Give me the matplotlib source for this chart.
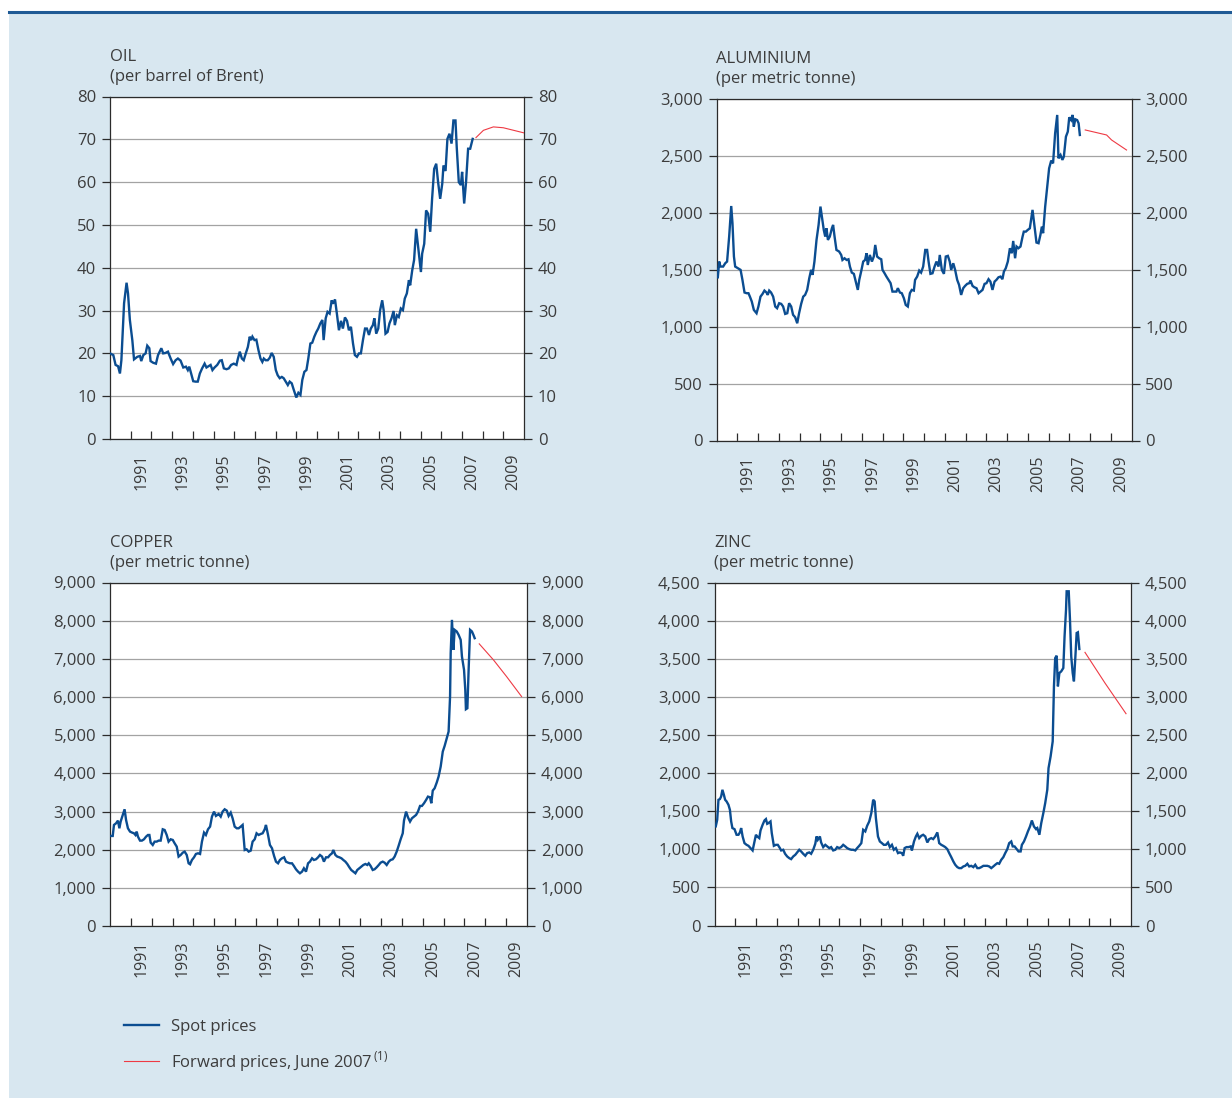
import matplotlib.pyplot as plt
import matplotlib.ticker as mticker
from matplotlib.patches import Rectangle
from matplotlib.lines import Line2D
import numpy as np

plt.rcParams['font.family'] = ['Open Sans', 'DejaVu Sans']

# time axis: years since Jan 1990
oil_t = [0.00, 0.16, 0.27, 0.39, 0.48, 0.55, 0.68, 0.80, 0.87, 0.96,
         1.08, 1.16, 1.32, 1.45, 1.51, 1.61, 1.72, 1.80, 1.90, 1.96,
         2.09, 2.22, 2.32, 2.48, 2.57, 2.68, 2.80, 2.93, 3.05, 3.17,
         3.28, 3.41, 3.54, 3.67, 3.76, 3.83, 3.92, 4.02, 4.13, 4.24,
         4.34, 4.45, 4.57, 4.66, 4.76, 4.86, 4.95, 5.05, 5.18, 5.31,
         5.40, 5.50, 5.63, 5.74, 5.85, 5.98, 6.11, 6.17, 6.27, 6.37,
         6.46, 6.56, 6.66, 6.75, 6.82, 6.88, 6.98, 7.07, 7.17, 7.27,
         7.36, 7.43, 7.52, 7.62, 7.72, 7.81, 7.91, 8.01, 8.10, 8.20,
         8.30, 8.39, 8.49, 8.59, 8.68, 8.78, 8.87, 9.00, 9.10, 9.20,
         9.29, 9.39, 9.49, 9.58, 9.68, 9.77, 9.87, 9.97, 10.06, 10.16,
         10.26, 10.32, 10.42, 10.51, 10.61, 10.71, 10.77, 10.87, 10.96, 11.06,
         11.16, 11.25, 11.35, 11.45, 11.54, 11.64, 11.74, 11.83, 11.93, 12.03,
         12.12, 12.22, 12.32, 12.41, 12.51, 12.60, 12.70, 12.77, 12.86, 12.96,
         13.05, 13.15, 13.22, 13.31, 13.41, 13.50, 13.60, 13.70, 13.76, 13.86,
         13.95, 14.05, 14.15, 14.24, 14.34, 14.44, 14.50, 14.60, 14.69, 14.79,
         14.92, 15.02, 15.08, 15.18, 15.27, 15.37, 15.47, 15.56, 15.66, 15.76,
         15.85, 15.95, 16.05, 16.11, 16.21, 16.30, 16.40, 16.50, 16.59, 16.69,
         16.75, 16.85, 16.95, 17.01, 17.11, 17.20, 17.30, 17.40, 17.52]
oil_v = [20.0, 19.6, 17.3, 17.0, 15.3, 18.4, 31.7, 36.5, 34.0, 27.8,
         23.0, 18.6, 19.2, 19.4, 18.2, 19.6, 20.0, 21.8, 21.2, 18.2,
         17.8, 17.6, 19.6, 21.2, 20.0, 20.1, 20.4, 18.8, 17.5, 18.4,
         18.8, 18.3, 16.7, 16.9, 16.1, 16.9, 15.3, 13.5, 13.4, 13.4,
         15.3, 16.5, 17.6, 16.7, 17.0, 17.3, 16.1, 16.7, 17.3, 18.3,
         18.4, 16.5, 16.3, 16.5, 17.3, 17.6, 17.3, 18.6, 20.4, 18.8,
         18.4, 20.0, 21.5, 23.9, 23.1, 23.9, 23.1, 23.2, 20.8, 18.8,
         18.0, 18.8, 18.4, 18.4, 19.0, 20.1, 19.2, 16.1, 14.9, 14.2,
         14.5, 14.2, 13.4, 12.6, 13.4, 13.0, 11.6, 9.7, 10.8, 10.3,
         13.8, 15.7, 16.1, 18.8, 22.3, 22.5, 23.9, 25.0, 25.8, 27.0,
         27.8, 23.1, 28.2, 29.7, 29.3, 32.4, 31.6, 32.6, 29.3, 25.4,
         27.6, 25.8, 28.4, 27.6, 25.4, 26.2, 22.3, 19.6, 19.2, 20.0,
         20.0, 23.1, 25.8, 25.8, 24.3, 25.8, 26.6, 28.2, 24.6, 25.8,
         30.1, 32.4, 30.1, 24.6, 25.0, 27.0, 28.2, 29.9, 26.6, 28.9,
         28.5, 30.5, 30.1, 32.8, 34.0, 37.1, 35.9, 39.4, 41.8, 49.1,
         43.3, 39.0, 43.3, 45.6, 53.4, 52.6, 48.4, 56.1, 63.1, 64.3,
         60.0, 56.1, 59.6, 63.9, 62.6, 70.1, 71.3, 69.0, 74.4, 74.4,
         68.2, 60.0, 59.3, 62.4, 55.0, 60.0, 67.8, 67.8, 70.1]
oil_fwd_t = [17.68, 18.04, 18.52, 19.00, 20.00]
oil_fwd_v = [70.4, 72.1, 72.9, 72.7, 71.5]

alu_t = [0.00, 0.06, 0.13, 0.19, 0.32, 0.42, 0.51, 0.61, 0.71, 0.77,
         0.84, 0.90, 1.03, 1.16, 1.25, 1.35, 1.45, 1.54, 1.61, 1.70,
         1.80, 1.93, 2.02, 2.12, 2.22, 2.31, 2.41, 2.47, 2.54, 2.63,
         2.73, 2.83, 2.92, 3.02, 3.12, 3.21, 3.31, 3.41, 3.50, 3.60,
         3.69, 3.79, 3.89, 3.98, 4.08, 4.18, 4.27, 4.37, 4.47, 4.56,
         4.63, 4.72, 4.82, 4.92, 5.01, 5.08, 5.17, 5.24, 5.30, 5.37,
         5.46, 5.56, 5.62, 5.69, 5.78, 5.91, 6.01, 6.07, 6.17, 6.27,
         6.36, 6.43, 6.52, 6.62, 6.71, 6.81, 6.88, 6.97, 7.07, 7.16,
         7.23, 7.29, 7.39, 7.49, 7.58, 7.65, 7.74, 7.84, 7.94, 8.00,
         8.10, 8.19, 8.29, 8.39, 8.48, 8.58, 8.67, 8.74, 8.84, 8.93,
         9.03, 9.12, 9.22, 9.32, 9.41, 9.51, 9.57, 9.67, 9.77, 9.86,
         9.96, 10.06, 10.15, 10.22, 10.31, 10.41, 10.51, 10.60, 10.70, 10.76,
         10.86, 10.96, 11.05, 11.15, 11.24, 11.31, 11.41, 11.50, 11.60, 11.69,
         11.79, 11.89, 11.98, 12.08, 12.18, 12.24, 12.34, 12.43, 12.53, 12.63,
         12.72, 12.82, 12.92, 13.01, 13.11, 13.20, 13.30, 13.40, 13.49, 13.59,
         13.69, 13.78, 13.85, 13.94, 14.04, 14.14, 14.23, 14.30, 14.39, 14.46,
         14.55, 14.65, 14.75, 14.81, 14.91, 15.00, 15.10, 15.23, 15.33, 15.42,
         15.52, 15.61, 15.68, 15.74, 15.84, 15.94, 16.03, 16.13, 16.22, 16.32,
         16.42, 16.48, 16.58, 16.67, 16.74, 16.84, 16.93, 17.00, 17.09, 17.16,
         17.22, 17.29, 17.38, 17.45, 17.51]
alu_v = [1500, 1425, 1572, 1528, 1528, 1557, 1572, 1791, 2060, 1908,
         1616, 1528, 1513, 1499, 1411, 1300, 1294, 1294, 1264, 1221,
         1147, 1118, 1177, 1264, 1288, 1317, 1300, 1279, 1317, 1300,
         1264, 1177, 1162, 1206, 1200, 1177, 1112, 1118, 1206, 1177,
         1104, 1083, 1030, 1118, 1200, 1264, 1279, 1323, 1425, 1499,
         1455, 1572, 1762, 1894, 2055, 1967, 1850, 1791, 1864, 1762,
         1791, 1864, 1894, 1791, 1674, 1660, 1630, 1586, 1601, 1586,
         1592, 1528, 1475, 1464, 1396, 1323, 1411, 1484, 1572, 1586,
         1645, 1542, 1630, 1572, 1616, 1718, 1616, 1601, 1592, 1499,
         1469, 1440, 1411, 1382, 1308, 1308, 1308, 1338, 1300, 1294,
         1250, 1191, 1177, 1294, 1323, 1317, 1411, 1440, 1493, 1475,
         1528, 1674, 1674, 1572, 1464, 1469, 1528, 1572, 1528, 1630,
         1499, 1464, 1616, 1622, 1572, 1499, 1557, 1499, 1411, 1367,
         1279, 1338, 1358, 1376, 1382, 1405, 1358, 1346, 1338, 1294,
         1308, 1323, 1376, 1382, 1417, 1396, 1323, 1396, 1411, 1434,
         1440, 1417, 1484, 1513, 1572, 1689, 1645, 1753, 1601, 1704,
         1689, 1704, 1791, 1835, 1835, 1850, 1864, 2026, 1879, 1739,
         1733, 1806, 1879, 1821, 2055, 2230, 2391, 2459, 2435, 2699,
         2860, 2479, 2508, 2465, 2494, 2669, 2713, 2839, 2815, 2860,
         2757, 2822, 2815, 2787, 2684]
alu_fwd_t = [17.77, 18.80, 19.04, 19.76]
alu_fwd_v = [2728, 2684, 2640, 2552]

cu_t = [0.00, 0.13, 0.19, 0.29, 0.38, 0.45, 0.51, 0.61, 0.70, 0.77,
        0.86, 0.96, 1.06, 1.15, 1.22, 1.28, 1.34, 1.44, 1.53, 1.63,
        1.73, 1.82, 1.89, 1.95, 2.05, 2.14, 2.24, 2.33, 2.43, 2.53,
        2.62, 2.72, 2.81, 2.91, 3.01, 3.10, 3.20, 3.29, 3.39, 3.49,
        3.58, 3.68, 3.77, 3.84, 3.93, 4.03, 4.12, 4.22, 4.32, 4.41,
        4.51, 4.60, 4.70, 4.80, 4.89, 4.99, 5.08, 5.15, 5.21, 5.31,
        5.40, 5.50, 5.60, 5.69, 5.79, 5.88, 5.98, 6.08, 6.17, 6.27,
        6.36, 6.46, 6.55, 6.65, 6.75, 6.84, 6.94, 7.03, 7.13, 7.23,
        7.32, 7.42, 7.48, 7.58, 7.67, 7.77, 7.87, 7.96, 8.06, 8.15,
        8.25, 8.35, 8.44, 8.54, 8.63, 8.73, 8.82, 8.92, 9.02, 9.11,
        9.21, 9.30, 9.40, 9.50, 9.59, 9.69, 9.78, 9.88, 9.98, 10.07,
        10.17, 10.26, 10.36, 10.46, 10.55, 10.65, 10.71, 10.81, 10.90, 11.00,
        11.10, 11.19, 11.29, 11.38, 11.48, 11.57, 11.67, 11.77, 11.86, 11.96,
        12.05, 12.15, 12.25, 12.34, 12.41, 12.50, 12.60, 12.69, 12.79, 12.89,
        12.98, 13.08, 13.17, 13.27, 13.37, 13.46, 13.56, 13.65, 13.75, 13.84,
        13.94, 14.04, 14.10, 14.20, 14.29, 14.39, 14.48, 14.58, 14.68, 14.77,
        14.87, 14.96, 15.06, 15.16, 15.25, 15.35, 15.41, 15.48, 15.57, 15.67,
        15.76, 15.86, 15.96, 16.05, 16.15, 16.24, 16.31, 16.34, 16.40, 16.47,
        16.53, 16.63, 16.72, 16.82, 16.88, 16.98, 17.04, 17.07, 17.14, 17.20,
        17.27, 17.36, 17.43, 17.49]
cu_v = [2359, 2359, 2648, 2691, 2761, 2560, 2735, 2910, 3058, 2779,
        2560, 2473, 2447, 2429, 2385, 2473, 2342, 2237, 2237, 2272,
        2342, 2385, 2385, 2185, 2123, 2211, 2211, 2237, 2237, 2534,
        2516, 2385, 2211, 2272, 2254, 2167, 2080, 1818, 1861, 1922,
        1949, 1861, 1643, 1617, 1730, 1800, 1887, 1905, 1887, 2211,
        2447, 2385, 2534, 2604, 2866, 2997, 2884, 2910, 2936, 2866,
        2997, 3058, 3023, 2884, 2971, 2822, 2604, 2560, 2560, 2604,
        2648, 1992, 2010, 1949, 1975, 2211, 2272, 2429, 2385, 2412,
        2429, 2534, 2648, 2385, 2123, 2036, 1835, 1686, 1643, 1730,
        1774, 1800, 1686, 1660, 1643, 1643, 1573, 1486, 1424, 1381,
        1424, 1512, 1424, 1643, 1686, 1774, 1730, 1748, 1800, 1861,
        1818, 1686, 1800, 1800, 1861, 1905, 1992, 1861, 1818, 1800,
        1774, 1730, 1686, 1625, 1538, 1468, 1424, 1381, 1468, 1512,
        1555, 1599, 1625, 1599, 1643, 1573, 1468, 1486, 1538, 1599,
        1660, 1686, 1660, 1599, 1686, 1730, 1748, 1818, 1949, 2097,
        2272, 2429, 2761, 2997, 2849, 2735, 2822, 2866, 2910, 2997,
        3146, 3146, 3216, 3303, 3390, 3373, 3216, 3548, 3609, 3757,
        3915, 4177, 4570, 4719, 4920, 5094, 6012, 7148, 8021, 7236,
        7759, 7716, 7628, 7497, 7060, 6711, 6187, 5680, 5706, 6711,
        7759, 7716, 7628, 7541]
cu_fwd_t = [17.71, 18.39, 19.02, 19.74]
cu_fwd_v = [7392, 6973, 6536, 6012]

zn_t = [0.00, 0.06, 0.13, 0.19, 0.26, 0.32, 0.38, 0.45, 0.51, 0.58,
        0.67, 0.74, 0.80, 0.86, 0.96, 1.06, 1.15, 1.22, 1.28, 1.35,
        1.44, 1.54, 1.63, 1.73, 1.83, 1.92, 1.99, 2.05, 2.15, 2.21,
        2.31, 2.40, 2.47, 2.53, 2.59, 2.69, 2.75, 2.85, 2.95, 3.04,
        3.14, 3.20, 3.30, 3.39, 3.49, 3.59, 3.68, 3.78, 3.88, 3.97,
        4.07, 4.16, 4.26, 4.36, 4.45, 4.55, 4.64, 4.74, 4.84, 4.90,
        4.96, 5.06, 5.12, 5.22, 5.32, 5.41, 5.51, 5.60, 5.70, 5.80,
        5.89, 5.99, 6.08, 6.18, 6.28, 6.37, 6.47, 6.57, 6.66, 6.76,
        6.85, 6.95, 7.05, 7.14, 7.24, 7.33, 7.43, 7.53, 7.62, 7.69,
        7.75, 7.85, 7.94, 8.04, 8.13, 8.23, 8.33, 8.42, 8.52, 8.61,
        8.71, 8.81, 8.90, 9.00, 9.06, 9.13, 9.22, 9.32, 9.42, 9.48,
        9.58, 9.67, 9.74, 9.83, 9.93, 10.02, 10.12, 10.22, 10.31, 10.41,
        10.50, 10.60, 10.70, 10.79, 10.89, 10.98, 11.08, 11.18, 11.27, 11.37,
        11.47, 11.56, 11.66, 11.75, 11.85, 11.95, 12.04, 12.14, 12.23, 12.33,
        12.43, 12.52, 12.62, 12.71, 12.81, 12.91, 13.00, 13.10, 13.19, 13.29,
        13.39, 13.48, 13.58, 13.67, 13.77, 13.87, 13.96, 14.06, 14.15, 14.25,
        14.32, 14.41, 14.51, 14.60, 14.70, 14.76, 14.86, 14.96, 15.05, 15.15,
        15.24, 15.34, 15.44, 15.50, 15.60, 15.69, 15.79, 15.88, 15.98, 16.04,
        16.14, 16.24, 16.30, 16.36, 16.43, 16.49, 16.56, 16.65, 16.75, 16.81,
        16.88, 16.91, 17.01, 17.07, 17.13, 17.20, 17.26, 17.33, 17.39, 17.45,
        17.52]
zn_v = [1301, 1301, 1389, 1652, 1661, 1696, 1783, 1718, 1652, 1630,
        1586, 1520, 1367, 1280, 1266, 1192, 1192, 1223, 1280, 1170,
        1082, 1060, 1047, 1017, 986, 1104, 1192, 1170, 1148, 1249,
        1323, 1380, 1398, 1336, 1345, 1367, 1214, 1047, 1060, 1060,
        1017, 986, 995, 942, 907, 885, 872, 907, 929, 960,
        995, 973, 942, 916, 951, 960, 942, 995, 1074, 1170,
        1126, 1170, 1091, 1030, 1060, 1039, 1017, 1030, 986, 995,
        1030, 1017, 1030, 1060, 1039, 1017, 1003, 995, 995, 986,
        1017, 1047, 1082, 1258, 1236, 1310, 1367, 1477, 1652, 1630,
        1411, 1170, 1104, 1082, 1060, 1060, 1091, 1030, 1060, 995,
        1017, 951, 960, 951, 916, 1017, 1030, 1030, 1039, 986,
        1104, 1170, 1205, 1148, 1179, 1192, 1170, 1091, 1135, 1148,
        1135, 1170, 1223, 1082, 1060, 1047, 1030, 1003, 951, 898,
        841, 798, 767, 754, 754, 776, 784, 811, 776, 784,
        767, 798, 754, 754, 767, 784, 784, 784, 776, 754,
        776, 798, 819, 811, 863, 898, 951, 1003, 1082, 1104,
        1039, 1039, 1003, 973, 973, 1060, 1104, 1170, 1236, 1301,
        1380, 1301, 1266, 1280, 1192, 1345, 1477, 1608, 1783, 2068,
        2222, 2419, 3142, 3514, 3545, 3142, 3317, 3339, 3383, 3799,
        4150, 4391, 4391, 4018, 3536, 3317, 3208, 3536, 3843, 3852,
        3633]
zn_fwd_t = [17.79, 18.75, 19.76]
zn_fwd_v = [3589, 3186, 2783]

titles = ['OIL\n(per barrel of Brent)', 'ALUMINIUM\n(per metric tonne)',
          'COPPER\n(per metric tonne)', 'ZINC\n(per metric tonne)']
y_max = [80, 3000, 9000, 4500]
y_step = [10, 500, 1000, 500]
label_years = list(range(1991, 2010, 2))

BLUE = '#0b4d91'
RED = '#ee3a44'
TEXT = '#3c3c3c'
SPINE = '#2b2b2b'
GRID = '#a3a3a3'
BG = '#d8e7f0'
FS = 12

W, H = 1232, 1098
fig = plt.figure(figsize=(W / 100, H / 100), dpi=100)
fig.patch.set_facecolor('white')
fig.patches.append(Rectangle((9 / W, 0), 1, 1 - 12.5 / H, transform=fig.transFigure,
                             facecolor=BG, edgecolor='none', zorder=-2))
fig.add_artist(Line2D([9 / W, 1], [1 - 11.5 / H] * 2, transform=fig.transFigure,
                      color='#1f5a95', lw=2.2))

# axes boxes in pixels: left, top, right, bottom
boxes = [(110, 96.5, 524, 439), (716.5, 99, 1131.5, 440.5),
         (110, 582.5, 527, 926), (714.5, 583, 1131, 925.5)]

series = [(oil_t, oil_v, oil_fwd_t, oil_fwd_v), (alu_t, alu_v, alu_fwd_t, alu_fwd_v),
          (cu_t, cu_v, cu_fwd_t, cu_fwd_v), (zn_t, zn_v, zn_fwd_t, zn_fwd_v)]

fmt = mticker.FuncFormatter(lambda v, p: f'{int(v):,}')
handles = None
for i, (l, t, r, b) in enumerate(boxes):
    ax = fig.add_axes([l / W, 1 - b / H, (r - l) / W, (b - t) / H])
    ax.set_facecolor('white')
    st, sv, ft, fv = series[i]
    h1, = ax.plot(1990 + np.array(st), sv, color=BLUE, lw=1.7, zorder=3,
                  solid_joinstyle='miter')
    h2, = ax.plot(1990 + np.array(ft), fv, color=RED, lw=0.8, zorder=3)
    if handles is None:
        handles = [h1, h2]
    ax.set_xlim(1990, 2010)
    ax.set_ylim(0, y_max[i])
    ax.set_yticks(np.arange(0, y_max[i] + 1, y_step[i]))
    ax.yaxis.set_major_formatter(fmt)
    ax.grid(axis='y', color=GRID, lw=0.9)
    ax.set_axisbelow(True)
    ax.set_xticks(range(1991, 2010))
    ax.set_xticklabels([])
    ax.set_xticks([y + 0.5 for y in label_years], minor=True)
    ax.set_xticklabels([str(y) for y in label_years], minor=True, rotation=90,
                       fontsize=FS - 0.5, color=TEXT)
    ax.tick_params(axis='x', which='major', direction='in', length=5.5,
                   width=0.9, color=SPINE)
    ax.tick_params(axis='x', which='minor', length=0, pad=10.5)
    ax.tick_params(axis='y', direction='out', length=6, width=0.9, color=SPINE,
                   left=True, right=True, labelleft=True, labelright=True,
                   labelsize=FS, labelcolor=TEXT, pad=4)
    for s in ax.spines.values():
        s.set_color(SPINE)
        s.set_linewidth(0.9)
    ax.set_title(titles[i], loc='left', fontsize=FS, color=TEXT, pad=11.5,
                 linespacing=1.3)

fig.legend(handles, ['Spot prices', 'Forward prices, June 2007$^{\\,\\mathregular{(1)}}$'],
           loc='upper left', bbox_to_anchor=(124 / W, 1 - 1019 / H),
           frameon=False, fontsize=FS, borderpad=0, borderaxespad=0,
           handlelength=2.1, handletextpad=0.7, labelspacing=0.85,
           labelcolor=TEXT)

fig.savefig('out.png', dpi=100, facecolor=fig.get_facecolor())
